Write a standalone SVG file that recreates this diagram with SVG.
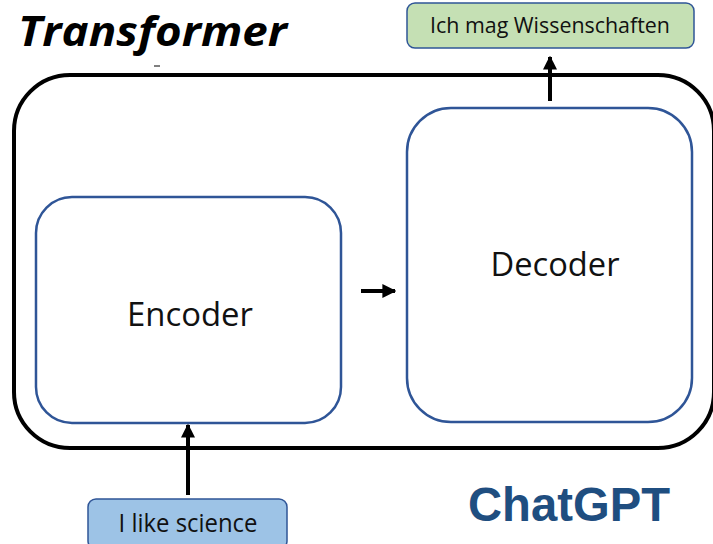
<svg xmlns="http://www.w3.org/2000/svg" width="713" height="544" viewBox="0 0 713 544">
<style>
.blk{fill:#fff;stroke:#2F5597;stroke-width:2.5}
.lbl{font-family:"Open Sans","Liberation Sans",sans-serif;fill:#111;text-anchor:middle}
.tag{stroke:#2F5597;stroke-width:1.5}
.conn{stroke:#000;stroke-width:4;fill:none}
</style>
<defs>
<marker id="ah" viewBox="0 0 10 10" refX="9" refY="5" markerWidth="3.5" markerHeight="3.5" orient="auto" markerUnits="strokeWidth">
<path d="M0,0 L10,5 L0,10 z" fill="#000"/>
</marker>
</defs>
<rect width="713" height="544" fill="#fff"/>
<text x="18" y="46" font-family="'Open Sans','Liberation Sans',sans-serif" font-weight="bold" font-style="italic" font-size="42" textLength="269" lengthAdjust="spacingAndGlyphs">Transformer</text>
<line x1="154" y1="66" x2="160" y2="66" stroke="#000" stroke-width="1"/>
<g id="transformer">
<rect x="14" y="75" width="700" height="373" rx="56" fill="none" stroke="#000" stroke-width="4"/>
</g>
<g id="encoder">
<rect class="blk" x="36" y="197" width="305" height="226" rx="36"/>
<text class="lbl" x="190" y="326" font-size="33" textLength="126" lengthAdjust="spacingAndGlyphs">Encoder</text>
</g>
<g id="decoder">
<rect class="blk" x="407" y="108" width="285" height="314" rx="44"/>
<text class="lbl" x="555" y="276" font-size="33" textLength="129" lengthAdjust="spacingAndGlyphs">Decoder</text>
</g>
<g id="output">
<rect class="tag" x="407" y="3" width="287" height="45" rx="8" fill="#C5E0B4"/>
<text class="lbl" x="550" y="33" font-size="21" textLength="240" lengthAdjust="spacingAndGlyphs">Ich mag Wissenschaften</text>
</g>
<g id="input">
<rect class="tag" x="88" y="499" width="199" height="50" rx="8" fill="#9DC3E6"/>
<text class="lbl" x="188" y="532" font-size="25" textLength="139" lengthAdjust="spacingAndGlyphs">I like science</text>
</g>
<g id="chatgpt">
<text x="569" y="521" font-family="'Liberation Sans',Arial,sans-serif" font-weight="bold" font-size="48" fill="#1F4E80" text-anchor="middle" textLength="202" lengthAdjust="spacingAndGlyphs">ChatGPT</text>
</g>
<g id="connectors">
<line class="conn" x1="361" y1="291" x2="395" y2="291" marker-end="url(#ah)"/>
<line class="conn" x1="550" y1="101" x2="550" y2="57" marker-end="url(#ah)"/>
<line class="conn" x1="188" y1="495" x2="188" y2="425" marker-end="url(#ah)"/>
</g>
</svg>
